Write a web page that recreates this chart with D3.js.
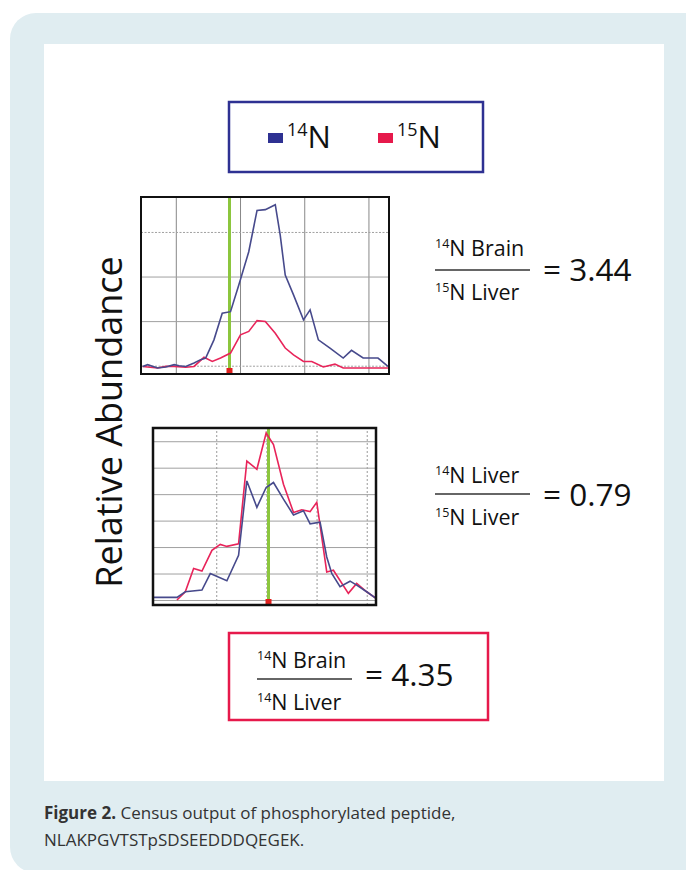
<!DOCTYPE html>
<html><head><meta charset="utf-8">
<script src="https://cdn.jsdelivr.net/npm/d3@7"></script>
<style>
html,body{margin:0;padding:0;background:#fff;}
svg{display:block;}
text{font-family:"Open Sans","Noto Sans",sans-serif;}
</style></head>
<body><svg id="c" width="686" height="870"></svg>
<script>
// ---- Data ----
// Chart 1: 14N Brain vs 15N Liver
const c1X = [4.84,5.61,7.16,8.45,9.74,10.52,11.55,12.84,13.87,14.65,15.94,17.23,18.52,19.81,21.36,22.65,23.94,25.49,26.26,27.04,28.33,29.88,30.91,32.2,34.01,36.07,37.36,39.17,41.49,43.04];
const c1Blue = [-0.4,0.6,-1.3,-0.7,0.6,0,-0.4,1.5,3.4,4.3,14.5,29.4,30.3,45.2,63.9,87.1,87.5,90.3,73.2,50.8,39.7,25.7,31.3,14.5,9.9,4.3,8.6,4.3,4.3,-0.4];
const c1RX = [4.84,7.16,8.45,9.74,11.55,12.84,14.39,15.68,16.97,18.52,20.07,21.36,22.65,23.94,25.49,27.04,28.33,29.88,31.17,32.97,34.78,36.07,43.04];
const c1Red = [-0.4,-1.3,-0.4,-0.4,-0.9,-0.4,4.7,2.4,4.3,7.1,17.3,19.2,25.3,24.8,18.2,9.9,6.1,2.4,2.4,-0.7,0.9,-1.3,-1.3];
const c1XTicks = [10,20,30,40];
const c1YTicks = [0,25,50,75];
const c1Marker = 18.36;

// Chart 2: 14N Liver vs 15N Liver
const c2X = [7.39,12.17,13.83,17.15,18.81,22.12,24.45,26.1,28.1,29.95,31.41,33.4,35.4,37.39,38.71,40.7,42.03,43.03,44.68,46.68,48.0,49.99,51.85];
const c2Blue = [1.0,1.0,3.1,3.75,10.0,7.25,16.9,45,35,42.5,44.4,38.1,32.1,33.75,28.75,29.4,16.25,10,5,7.1,5.6,3.1,0.6];
const c2RX = [12.17,13.83,15.49,17.15,19.14,20.8,22.12,24.45,26.1,28.1,29.95,31.41,33.4,35.4,37.05,38.71,40.04,42.03,43.36,46.34,48.0,49.99,51.85];
const c2Red = [0,3.1,11.9,10.9,18.75,21,20.25,21.25,52.5,49.4,63.1,58.75,43.75,33.1,34.1,33.4,36.9,10.6,11.25,2.5,6.25,3.1,0.6];
const c2XTicks = [20,30,40,50];
const c2YTicks = [0,10,20,30,40,50,60];
const c2Marker = 30.42;

const legendLabels = [{iso:"14",el:"N"},{iso:"15",el:"N"}];
const ratios = [
  {num:["14","N Brain"], den:["15","N Liver"], val:"= 3.44"},
  {num:["14","N Liver"], den:["15","N Liver"], val:"= 0.79"},
  {num:["14","N Brain"], den:["14","N Liver"], val:"= 4.35"}
];
const caption = ["Figure 2.", " Census output of phosphorylated peptide,", "NLAKPGVTSTpSDSEEDDDQEGEK."];
const yLabel = "Relative Abundance";

const BLUE = "#474a8c", RED = "#e8245a", GREEN = "#8cc63e";
const LBLUE = "#2e3192", LRED = "#e6194b";

const svg = d3.select("#c");
// background panels
svg.append("rect").attr("x",10).attr("y",13).attr("width",700).attr("height",860).attr("rx",26).attr("fill","#e0edf1");
svg.append("rect").attr("x",44).attr("y",44).attr("width",620).attr("height",737).attr("fill","#fff");

// Legend
svg.append("rect").attr("x",229).attr("y",102).attr("width",254).attr("height",70).attr("fill","#fff").attr("stroke",LBLUE).attr("stroke-width",2.5);
const legX = [268,378], legC=[LBLUE,LRED];
legendLabels.forEach((d,i)=>{
  svg.append("rect").attr("x",legX[i]).attr("y",133).attr("width",15).attr("height",10).attr("fill",legC[i]);
  const t = svg.append("text").attr("x",legX[i]+19).attr("y",148).attr("fill","#111");
  t.append("tspan").attr("font-size",18).attr("dy",-12).text(d.iso);
  t.append("tspan").attr("font-size",31).attr("dy",12).text(d.el);
});

// Y label
svg.append("text").attr("transform","translate(122,422) rotate(-90)").attr("text-anchor","middle")
  .attr("font-size",36).attr("fill","#111").text(yLabel);

function chart(cfg){
  const g = svg.append("g");
  const x = d3.scaleLinear().domain(cfg.xd).range([cfg.l,cfg.r]);
  const y = d3.scaleLinear().domain(cfg.yd).range([cfg.b,cfg.t]);
  g.append("rect").attr("x",cfg.l).attr("y",cfg.t).attr("width",cfg.r-cfg.l).attr("height",cfg.b-cfg.t).attr("fill","#fff");
  // grid
  g.append("g").attr("transform",`translate(0,${cfg.b})`)
    .call(d3.axisBottom(x).tickValues(cfg.xt).tickSize(-(cfg.b-cfg.t)).tickFormat(""))
    .call(a=>a.select(".domain").remove())
    .call(a=>a.selectAll("line").attr("stroke",cfg.vCol).attr("stroke-width",1).attr("stroke-dasharray",cfg.vDash));
  g.append("g").attr("transform",`translate(${cfg.l},0)`)
    .call(d3.axisLeft(y).tickValues(cfg.yt).tickSize(-(cfg.r-cfg.l)).tickFormat(""))
    .call(a=>a.select(".domain").remove())
    .call(a=>a.selectAll("line").attr("stroke","#a0a0a0").attr("stroke-width",1).attr("stroke-dasharray",(d,i)=>cfg.hDash(d,i)));
  // marker line
  g.append("line").attr("x1",x(cfg.mk)).attr("x2",x(cfg.mk)).attr("y1",cfg.t).attr("y2",cfg.b).attr("stroke",GREEN).attr("stroke-width",3);
  const line = d3.line().x(d=>x(d[0])).y(d=>y(d[1]));
  g.append("path").datum(d3.zip(cfg.rx,cfg.red)).attr("d",line).attr("fill","none").attr("stroke",RED).attr("stroke-width",1.6);
  g.append("path").datum(d3.zip(cfg.bx,cfg.blue)).attr("d",line).attr("fill","none").attr("stroke",BLUE).attr("stroke-width",1.6);
  g.append("rect").attr("x",x(cfg.mk)-3).attr("y",cfg.b-6).attr("width",6).attr("height",5).attr("fill","#e0201e");
  g.append("rect").attr("x",cfg.l).attr("y",cfg.t).attr("width",cfg.r-cfg.l).attr("height",cfg.b-cfg.t).attr("fill","none").attr("stroke","#111").attr("stroke-width",cfg.bw);
}

chart({l:141,r:389,t:197,b:374,xd:[4.58,43.2],yd:[-4.65,94.6],xt:c1XTicks,yt:c1YTicks,
  bx:c1X,blue:c1Blue,rx:c1RX,red:c1Red,mk:c1Marker,vCol:"#888",vDash:"none",
  hDash:(d,i)=> (d===25||d===50)?"none":"2,1.5",bw:2});
chart({l:153,r:376,t:428,b:605,xd:[7.39,51.85],yd:[-1.9,65],xt:c2XTicks,yt:c2YTicks,
  bx:c2X,blue:c2Blue,rx:c2RX,red:c2Red,mk:c2Marker,vCol:"#999",vDash:"2,2",
  hDash:()=> "none",bw:2.5});

// Ratios
function frac(r,x0,nb,ly,db,vx,vb,w){
  const n = svg.append("text").attr("x",x0).attr("y",nb).attr("font-size",21.5).attr("fill","#111");
  n.append("tspan").attr("font-size",12.5).attr("dy",-8).text(r.num[0]);
  n.append("tspan").attr("dy",8).text(r.num[1]);
  svg.append("line").attr("x1",x0).attr("x2",x0+w).attr("y1",ly).attr("y2",ly).attr("stroke","#333").attr("stroke-width",1.3);
  const d = svg.append("text").attr("x",x0).attr("y",db).attr("font-size",21.5).attr("fill","#111");
  d.append("tspan").attr("font-size",12.5).attr("dy",-8).text(r.den[0]);
  d.append("tspan").attr("dy",8).text(r.den[1]);
  svg.append("text").attr("x",vx).attr("y",vb).attr("font-size",31.5).attr("fill","#111").text(r.val);
}
frac(ratios[0],435,256,270,300,543,281,95);
frac(ratios[1],435,483,494,525,543,506,95);
svg.append("rect").attr("x",229).attr("y",633).attr("width",259).attr("height",87).attr("fill","#fff").attr("stroke",LRED).attr("stroke-width",2.5);
frac(ratios[2],257,668,679,710,365,686,95);

// Caption
const cap = svg.append("text").attr("x",44).attr("y",819).attr("font-size",17).attr("fill","#333");
cap.append("tspan").attr("font-weight","bold").text(caption[0]);
cap.append("tspan").text(caption[1]);
svg.append("text").attr("x",44).attr("y",846).attr("font-size",17).attr("fill","#333").text(caption[2]);
</script></body></html>
